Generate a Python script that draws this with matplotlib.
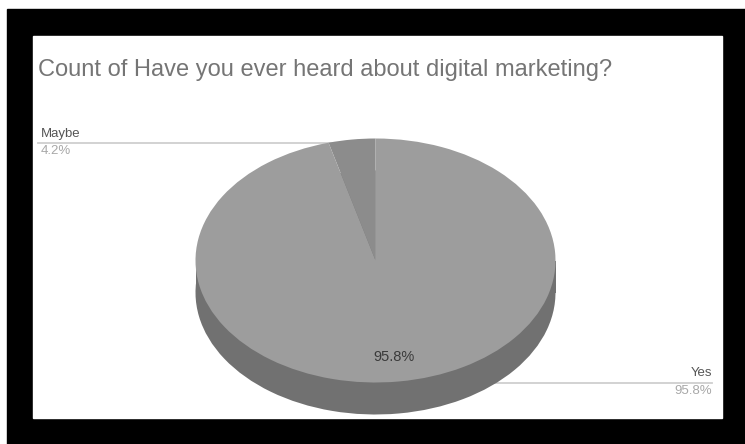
import numpy as np
import matplotlib
matplotlib.use("Agg")
import matplotlib.pyplot as plt
from matplotlib.patches import Rectangle

plt.rcParams['font.family'] = ['Liberation Sans', 'DejaVu Sans']

titulo = "Count of Have you ever heard about digital marketing?"
respuestas = ["Maybe", "Yes"]
porcentajes = [4.2, 95.8]

color_cara = ["#8c8c8c", "#9d9d9d"]
color_lado = ["#6a6a6a", "#717171"]

W, H = 745, 444


def fx(px):
    return px / W


def fy(py):
    return 1 - py / H


def main():
    fig = plt.figure(figsize=(W / 100, H / 100), dpi=100, facecolor="white")

    # marco negro y panel blanco
    fondo = fig.add_axes([0, 0, 1, 1])
    fondo.set_xlim(0, W)
    fondo.set_ylim(H, 0)
    fondo.axis("off")
    fondo.add_patch(Rectangle((7, 9), W - 7, H - 9, color="black"))
    fondo.add_patch(Rectangle((33, 36), 722 - 33, 418 - 36, color="white"))

    fig.text(fx(38), fy(70), titulo, fontsize=17, color="#757575",
             va="center", ha="left")

    # pastel "3D": cara superior + lado oscuro desplazado hacia abajo
    cx, rx = 375.5, 180
    top, ry = 138.5, 122
    fondo_px = 415
    prof = 32 / ry
    ax = fig.add_axes([fx(cx - rx), fy(fondo_px), 2 * rx / W, (fondo_px - top) / H])

    ax.pie(porcentajes, colors=color_lado, startangle=90, counterclock=True,
           center=(0, -prof), wedgeprops=dict(linewidth=0))
    ax.add_patch(Rectangle((-1, -prof), 2, prof, color=color_lado[1], lw=0))
    wedges, _, autotexts = ax.pie(
        porcentajes, colors=color_cara, startangle=90, counterclock=True,
        autopct=lambda p: f"{p:.1f}%" if p > 10 else "", pctdistance=0.8,
        wedgeprops=dict(linewidth=0),
        textprops=dict(fontsize=10.5, color="#3a3a3a"))

    ax.set_aspect("auto")
    ax.set_xlim(-1, 1)
    ax.set_ylim(1 - (fondo_px - top) / ry, 1)
    ax.axis("off")

    # líneas guía hacia las etiquetas (quedan bajo el pastel)
    def a_datos_x(px):
        return (px - cx) / rx

    def a_datos_y(py):
        return (top + ry - py) / ry

    y_maybe = a_datos_y(143)
    ang = np.deg2rad((wedges[0].theta1 + wedges[0].theta2) / 2)
    ax.plot([a_datos_x(38), np.cos(ang)], [y_maybe, y_maybe], color="#cfcfcf",
            lw=1.3, clip_on=False, zorder=0)
    y_yes = a_datos_y(382.5)
    ang = np.deg2rad((wedges[1].theta1 + wedges[1].theta2) / 2)
    ax.plot([np.cos(ang), a_datos_x(712)], [y_yes, y_yes], color="#cfcfcf",
            lw=1.3, clip_on=False, zorder=0)

    fig.text(fx(41), fy(134), respuestas[0], fontsize=9.5, color="#555555",
             ha="left", va="center")
    fig.text(fx(41), fy(151), f"{porcentajes[0]}%", fontsize=9.5, color="#a8a8a8",
             ha="left", va="center")
    fig.text(fx(712), fy(373), respuestas[1], fontsize=9.5, color="#555555",
             ha="right", va="center")
    fig.text(fx(712), fy(391), f"{porcentajes[1]}%", fontsize=9.5, color="#a8a8a8",
             ha="right", va="center")

    fig.savefig("out.png", dpi=100, facecolor="white")


if __name__ == "__main__":
    main()
